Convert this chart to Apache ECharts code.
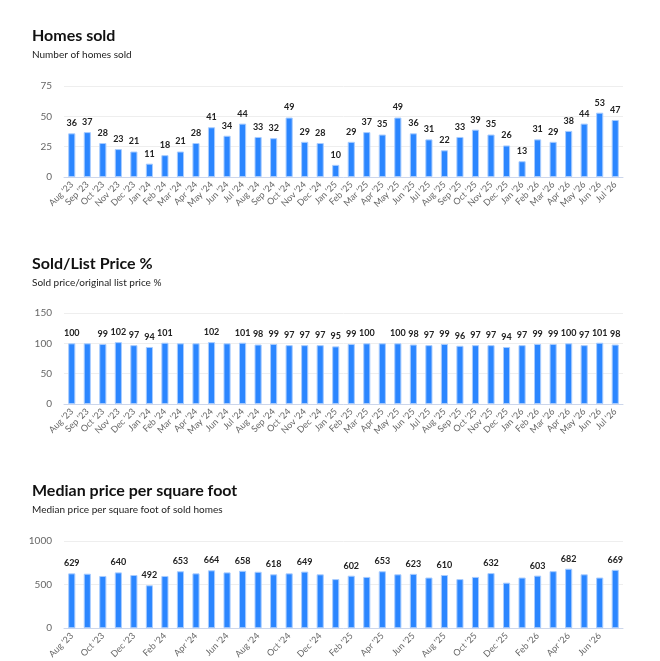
<!DOCTYPE html>
<html>
<head>
<meta charset="utf-8">
<script src="https://cdn.jsdelivr.net/npm/echarts@6/dist/echarts.min.js"></script>
<style>
  html, body { margin: 0; padding: 0; background: #fff; }
  #main { width: 660px; height: 661px; }
</style>
</head>
<body>
<div id="main"></div>
<script>
var months = ["Aug '23","Sep '23","Oct '23","Nov '23","Dec '23","Jan '24","Feb '24","Mar '24","Apr '24","May '24","Jun '24","Jul '24",
    "Aug '24","Sep '24","Oct '24","Nov '24","Dec '24","Jan '25","Feb '25","Mar '25","Apr '25","May '25","Jun '25","Jul '25",
    "Aug '25","Sep '25","Oct '25","Nov '25","Dec '25","Jan '26","Feb '26","Mar '26","Apr '26","May '26","Jun '26","Jul '26"];

var homesSold = [36, 37, 28, 23, 21, 11, 18, 21, 28, 41, 34, 44, 33, 32, 49, 29, 28, 10,
    29, 37, 35, 49, 36, 31, 22, 33, 39, 35, 26, 13, 31, 29, 38, 44, 53, 47];

var soldListPct = [100, 100, 99, 102, 97, 94, 101, 100, 100, 102, 100, 101, 98, 99, 97, 97, 97, 95,
    99, 100, 100, 100, 98, 97, 99, 96, 97, 97, 94, 97, 99, 99, 100, 97, 101, 98];

var pricePerSqft = [629, 625, 599, 640, 610, 492, 599, 653, 629, 664, 640, 658, 647, 618, 629, 649, 618, 563,
    602, 588, 653, 618, 623, 581, 610, 563, 588, 632, 522, 581, 603, 654, 682, 618, 581, 669];

var panels = [
    { title: 'Homes sold', sub: 'Number of homes sold', data: homesSold, max: 75, step: 25, labelEvery: 0 },
    { title: 'Sold/List Price %', sub: 'Sold price/original list price %', data: soldListPct, max: 150, step: 50, labelEvery: 0 },
    { title: 'Median price per square foot', sub: 'Median price per square foot of sold homes', data: pricePerSqft, max: 1000, step: 500, labelEvery: 1 }
];

var tops = [86, 313, 541];      // y of the top gridline
var titleTops = [23, 251, 478];
var gridH = 91;
var font = 'Lato, "Noto Sans", sans-serif';

var chart = echarts.init(document.getElementById('main'));
var option = {
    animation: false,
    textStyle: { fontFamily: font },
    title: [],
    grid: [],
    xAxis: [],
    yAxis: [],
    series: []
};

panels.forEach(function (p, i) {
    option.title.push({
        text: p.title,
        left: 27,
        top: titleTops[i],
        textStyle: { fontSize: 16, fontWeight: 'bold', color: '#111', fontFamily: font }
    });
    option.title.push({
        text: p.sub,
        left: 27,
        top: titleTops[i] + 22,
        textStyle: { fontSize: 10, fontWeight: 'normal', color: '#222', fontFamily: font }
    });
    option.grid.push({ left: 64, right: 37, top: tops[i], height: gridH });
    option.xAxis.push({
        type: 'category',
        gridIndex: i,
        data: months,
        axisLine: { lineStyle: { color: '#ccd6eb' } },
        axisTick: { show: false },
        axisLabel: { rotate: 45, interval: p.labelEvery, fontSize: 9, color: '#666', margin: 6 }
    });
    option.yAxis.push({
        type: 'value',
        gridIndex: i,
        min: 0,
        max: p.max,
        interval: p.step,
        axisLine: { show: false },
        axisTick: { show: false },
        axisLabel: { fontSize: 10, color: '#666', margin: 12, formatter: function (v) { return String(v); } },
        splitLine: { lineStyle: { color: '#eeeeee' } }
    });
    option.series.push({
        type: 'bar',
        xAxisIndex: i,
        yAxisIndex: i,
        data: p.data,
        barWidth: '46%',
        itemStyle: { color: '#2b86ff', borderColor: '#a8ccff', borderWidth: 1 },
        label: {
            show: true,
            position: 'top',
            fontSize: 9,
            fontWeight: 'bold',
            color: '#222',
            lineHeight: 14,
            distance: 3
        },
        labelLayout: { hideOverlap: true }
    });
});

chart.setOption(option);
</script>
</body>
</html>
